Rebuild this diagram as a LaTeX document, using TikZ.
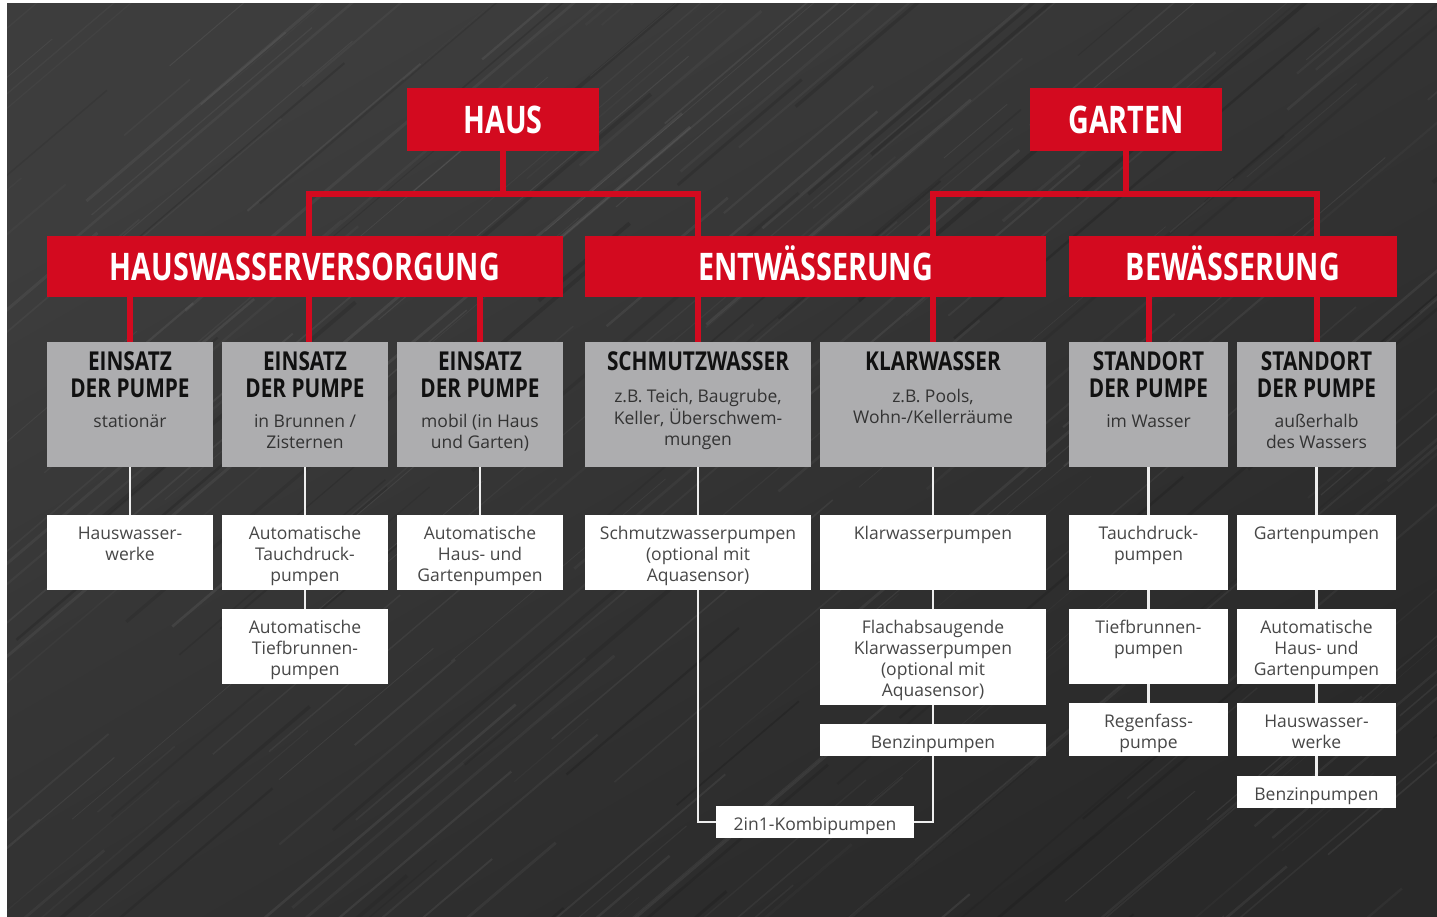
\documentclass[tikz,border=0pt]{standalone}
\usepackage{fontspec}
\setmainfont{Open Sans}
\newfontfamily\condf{Open Sans}[FakeStretch=0.8]
\newfontfamily\condt{Open Sans}[FakeStretch=0.755]
\usetikzlibrary{calc}
\definecolor{redc}{HTML}{D30A1F}
\definecolor{greyc}{HTML}{ADADAF}
\definecolor{bgc}{HTML}{2E2E2E}
\definecolor{wtext}{HTML}{474747}
\definecolor{gtext}{HTML}{333333}
\definecolor{htext}{HTML}{111111}
\definecolor{wlc}{HTML}{EEEEEE}
\tikzset{
  boxbase/.style={rectangle, inner sep=0pt, outer sep=0pt},
  rbx/.style={boxbase, fill=redc},
  gbx/.style={boxbase, fill=greyc},
  wbx/.style={boxbase, fill=white},
  rtxt/.style={inner sep=0pt, text=white, font=\condt\bfseries\fontsize{38}{40}\selectfont},
  ghead/.style={inner sep=0pt, text=htext, font=\condf\bfseries\fontsize{26}{27}\selectfont},
  gsub/.style={inner sep=0pt, text=gtext, font=\fontsize{17.5}{21.5}\selectfont},
  wtxt/.style={inner sep=0pt, text=wtext, font=\fontsize{17.5}{21}\selectfont},
  rline/.style={draw=redc, line width=6pt},
  wline/.style={draw=wlc, line width=2.6pt},
}
\newcommand\mkred[6]{%
  \node[rbx, minimum width={(#4)-(#2)}, minimum height={(#5)-(#3)}, anchor=north west] (#1) at (#2,#3) {};
  \node[rtxt, anchor=base] (#1-t) at ($(#1.center)+(0,14)$) {#6};}
\newcommand\mkwhite[6]{%
  \node[wbx, minimum width={(#4)-(#2)}, minimum height={(#5)-(#3)}, anchor=north west] (#1) at (#2,#3) {};
  \node[wtxt, anchor=base] (#1-t) at ($(#1.north)+(0,24)$) {\begin{tabular}[t]{@{}c@{}}#6\end{tabular}};}
\newcommand\mkgrey[8]{%
  \node[gbx, minimum width={(#4)-(#2)}, minimum height={(#5)-(#3)}, anchor=north west] (#1) at (#2,#3) {};
  \node[ghead, anchor=base] (#1-h) at ($(#1.north)+(0,28)$) {\begin{tabular}[t]{@{}c@{}}#6\end{tabular}};
  \node[gsub, anchor=base] (#1-s) at ($(#1.north)+(0,#7)$) {\begin{tabular}[t]{@{}c@{}}#8\end{tabular}};}
\begin{document}
\begin{tikzpicture}[x=1pt,y=-1pt]
\useasboundingbox (0,0) rectangle (1437,917);
\fill[white] (0,0) rectangle (1437,917);
\shade[top color=black!76, bottom color=black!84, shading angle=30] (7,4) rectangle (1437,917);
\begin{scope}
\clip (7,4) rectangle (1437,917);
\pgfmathsetseed{7}
\foreach \i in {1,...,260}{
  \pgfmathsetmacro\sx{rnd*2000-500}
  \pgfmathsetmacro\sy{rnd*1300}
  \pgfmathsetmacro\len{60+rnd*320}
  \pgfmathsetmacro\op{0.02+rnd*0.05}
  \pgfmathsetmacro\lw{0.6+rnd*2.4}
  \draw[white, opacity=\op, line width=\lw pt] (\sx,\sy) -- ++(\len,-0.85*\len);
}
\foreach \i in {1,...,80}{
  \pgfmathsetmacro\sx{rnd*2000-500}
  \pgfmathsetmacro\sy{rnd*1300}
  \pgfmathsetmacro\len{80+rnd*300}
  \pgfmathsetmacro\op{0.05+rnd*0.1}
  \pgfmathsetmacro\lw{1+rnd*3}
  \draw[black, opacity=\op, line width=\lw pt] (\sx,\sy) -- ++(\len,-0.85*\len);
}
\end{scope}

% level 1 and 2
\mkred{haus}{407}{88}{599}{151}{HAUS}
\mkred{garten}{1030}{88}{1222}{151}{GARTEN}
\mkred{hwv}{47}{236}{563}{297}{HAUSWASSERVERSORGUNG}
\mkred{entw}{585}{236}{1046}{297}{ENTWÄSSERUNG}
\mkred{bew}{1069}{236}{1397}{297}{BEWÄSSERUNG}

% level 3
\mkgrey{g1}{47}{342}{213}{467}{EINSATZ\\DER PUMPE}{85}{stationär}
\mkgrey{g2}{222}{342}{388}{467}{EINSATZ\\DER PUMPE}{85}{in Brunnen /\\Zisternen}
\mkgrey{g3}{397}{342}{563}{467}{EINSATZ\\DER PUMPE}{85}{mobil (in Haus\\und Garten)}
\mkgrey{g4}{585}{342}{811}{467}{SCHMUTZWASSER}{60}{z.B. Teich, Baugrube,\\Keller, Überschwem-\\mungen}
\mkgrey{g5}{820}{342}{1046}{467}{KLARWASSER}{60}{z.B. Pools,\\Wohn-/Kellerräume}
\mkgrey{g6}{1069}{342}{1228}{467}{STANDORT\\DER PUMPE}{85}{im Wasser}
\mkgrey{g7}{1237}{342}{1396}{467}{STANDORT\\DER PUMPE}{85}{außerhalb\\des Wassers}

% level 4
\mkwhite{w1}{47}{515}{213}{590}{Hauswasser-\\werke}
\mkwhite{w2}{222}{515}{388}{590}{Automatische\\Tauchdruck-\\pumpen}
\mkwhite{w2b}{222}{609}{388}{684}{Automatische\\Tiefbrunnen-\\pumpen}
\mkwhite{w3}{397}{515}{563}{590}{Automatische\\Haus- und\\Gartenpumpen}
\mkwhite{w4}{585}{515}{811}{590}{Schmutzwasserpumpen\\(optional mit\\Aquasensor)}
\mkwhite{w5}{820}{515}{1046}{590}{Klarwasserpumpen}
\mkwhite{w5b}{820}{609}{1046}{705}{Flachabsaugende\\Klarwasserpumpen\\(optional mit\\Aquasensor)}
\mkwhite{w5c}{820}{724}{1046}{756}{Benzinpumpen}
\mkwhite{kombi}{716}{806}{914}{838}{2in1-Kombipumpen}
\mkwhite{w6}{1069}{515}{1228}{590}{Tauchdruck-\\pumpen}
\mkwhite{w6b}{1069}{609}{1228}{684}{Tiefbrunnen-\\pumpen}
\mkwhite{w6c}{1069}{703}{1228}{756}{Regenfass-\\pumpe}
\mkwhite{w7}{1237}{515}{1396}{590}{Gartenpumpen}
\mkwhite{w7b}{1237}{609}{1396}{684}{Automatische\\Haus- und\\Gartenpumpen}
\mkwhite{w7c}{1237}{703}{1396}{756}{Hauswasser-\\werke}
\mkwhite{w7d}{1237}{776}{1396}{808}{Benzinpumpen}

% red connectors
\coordinate (h2) at ($(g2.north)+(4,0)$);
\draw[rline] (haus.south) -- (haus.south |- 0,194);
\draw[rline] (hwv.north -| h2) -- (h2 |- 0,194) -- (g4.north |- 0,194) -- (entw.north -| g4.north);
\draw[rline] (garten.south) -- (garten.south |- 0,194);
\draw[rline] (entw.north -| g5.north) -- (g5.north |- 0,194) -- (g7.north |- 0,194) -- (bew.north -| g7.north);
\draw[rline] (hwv.south -| g1.north) -- (g1.north);
\draw[rline] (hwv.south -| h2) -- (h2);
\draw[rline] (hwv.south -| g3.north) -- (g3.north);
\draw[rline] (entw.south -| g4.north) -- (g4.north);
\draw[rline] (entw.south -| g5.north) -- (g5.north);
\draw[rline] (bew.south -| g6.north) -- (g6.north);
\draw[rline] (bew.south -| g7.north) -- (g7.north);

% white connectors
\draw[wline] (g1.south) -- (w1.north);
\draw[wline] (g2.south) -- (w2.north);
\draw[wline] (w2.south) -- (w2b.north);
\draw[wline] (g3.south) -- (w3.north);
\draw[wline] (g4.south) -- (w4.north);
\draw[wline] (w4.south) |- (kombi.west);
\draw[wline] (g5.south) -- (w5.north);
\draw[wline] (w5.south) -- (w5b.north);
\draw[wline] (w5b.south) -- (w5c.north);
\draw[wline] (w5c.south) |- (kombi.east);
\draw[wline] (g6.south) -- (w6.north);
\draw[wline] (w6.south) -- (w6b.north);
\draw[wline] (w6b.south) -- (w6c.north);
\draw[wline] (g7.south) -- (w7.north);
\draw[wline] (w7.south) -- (w7b.north);
\draw[wline] (w7b.south) -- (w7c.north);
\draw[wline] (w7c.south) -- (w7d.north);
\end{tikzpicture}
\end{document}
